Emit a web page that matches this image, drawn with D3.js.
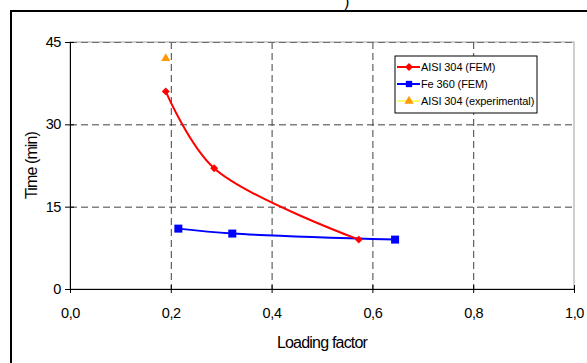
<!DOCTYPE html>
<html>
<head>
<meta charset="utf-8">
<script src="https://cdn.jsdelivr.net/npm/d3@7"></script>
<style>
  body { margin: 0; background: #fff; }
  svg { display: block; font-family: "Liberation Sans", Arial, sans-serif; }
</style>
</head>
<body>
<div id="chart"></div>
<script>
const width = 587;
const height = 363;

// values
const aisiFem = [
  { x: 0.19, y: 36 },
  { x: 0.286, y: 22 },
  { x: 0.573, y: 9 }
];
const feFem = [
  { x: 0.215, y: 11 },
  { x: 0.322, y: 10.1 },
  { x: 0.645, y: 9 }
];
const aisiExp = [
  { x: 0.19, y: 42 }
];
const xTicks = [0, 0.2, 0.4, 0.6, 0.8, 1.0];
const yTicks = [0, 15, 30, 45];
const seriesNames = ['AISI 304 (FEM)', 'Fe 360 (FEM)', 'AISI 304 (experimental)'];

const margin = { left: 70, right: 13, top: 42, bottom: 74 };
const plotW = width - margin.left - margin.right;
const plotH = height - margin.top - margin.bottom;

const svg = d3.select('#chart')
  .append('svg')
  .attr('width', width)
  .attr('height', height);

// outer frame (runs off the right and bottom edge)
svg.append('rect')
  .attr('x', 11).attr('y', 11)
  .attr('width', 620).attr('height', 400)
  .attr('fill', 'none')
  .attr('stroke', '#000')
  .attr('stroke-width', 2);

// cut-off caption above the frame
svg.append('text')
  .attr('x', 344).attr('y', 9)
  .attr('font-size', 16)
  .attr('font-style', 'italic')
  .text(')');

const x = d3.scaleLinear().domain([0, 1]).range([0, plotW]);
const y = d3.scaleLinear().domain([0, 45]).range([plotH, 0]);

const g = svg.append('g')
  .attr('transform', `translate(${margin.left},${margin.top})`);

// plot area border
g.append('rect')
  .attr('width', plotW).attr('height', plotH)
  .attr('fill', 'none')
  .attr('stroke', '#a0a0a0')
  .attr('stroke-width', 1);

// grid lines
g.append('g')
  .selectAll('line')
  .data(xTicks.filter(d => d > 0 && d < 1))
  .enter()
  .append('line')
  .attr('x1', d => x(d) + 0.5).attr('x2', d => x(d) + 0.5)
  .attr('y1', 0).attr('y2', plotH)
  .attr('stroke', '#404040')
  .attr('stroke-dasharray', '7,4');

g.append('g')
  .selectAll('line')
  .data(yTicks.filter(d => d > 0))
  .enter()
  .append('line')
  .attr('x1', 0).attr('x2', plotW)
  .attr('y1', d => y(d) + 0.5).attr('y2', d => y(d) + 0.5)
  .attr('stroke', d => d === 45 ? '#707070' : '#404040')
  .attr('stroke-dasharray', '7,4');

// axes
const xAxis = g.append('g')
  .attr('transform', `translate(0,${plotH})`)
  .call(d3.axisBottom(x).tickValues(xTicks).tickSize(4).tickPadding(14)
    .tickFormat(d => d3.format('.1f')(d).replace('.', ',')));
xAxis.selectAll('.tick line').attr('y1', -4);

const yAxis = g.append('g')
  .call(d3.axisLeft(y).tickValues(yTicks).tickSize(5).tickPadding(4));
yAxis.selectAll('.tick line').attr('x1', 4).attr('x2', -5);

[xAxis, yAxis].forEach(a => {
  a.select('.domain').attr('stroke', '#000');
  a.selectAll('.tick line').attr('stroke', '#000');
  a.selectAll('text')
    .attr('font-family', '"Liberation Sans", Arial, sans-serif')
    .attr('font-size', 14.5)
    .attr('letter-spacing', -0.4)
    .attr('fill', '#000');
});
xAxis.selectAll('.tick text').attr('dy', '0.75em');

// axis titles
svg.append('text')
  .attr('x', margin.left + x(0.5))
  .attr('y', 348)
  .attr('text-anchor', 'middle')
  .attr('font-size', 16)
  .attr('letter-spacing', -0.8)
  .text('Loading factor');

svg.append('text')
  .attr('transform', `translate(37,${margin.top + plotH / 2}) rotate(-90)`)
  .attr('text-anchor', 'middle')
  .attr('font-size', 16)
  .attr('letter-spacing', -0.9)
  .text('Time (min)');

// series
const line = d3.line()
  .x(d => x(d.x))
  .y(d => y(d.y))
  .curve(d3.curveCatmullRom.alpha(0.5));

g.append('path')
  .datum(feFem)
  .attr('d', line)
  .attr('fill', 'none')
  .attr('stroke', '#0000ff')
  .attr('stroke-width', 2);

g.append('path')
  .datum(aisiFem)
  .attr('d', line)
  .attr('fill', 'none')
  .attr('stroke', '#ff0000')
  .attr('stroke-width', 2);

const diamond = d3.symbol().type(d3.symbolDiamond2).size(40);
const square = d3.symbol().type(d3.symbolSquare).size(64);
const triangle = d3.symbol().type(d3.symbolTriangle).size(36);

g.append('g').selectAll('path')
  .data(aisiFem).enter().append('path')
  .attr('transform', d => `translate(${x(d.x)},${y(d.y)})`)
  .attr('d', diamond)
  .attr('fill', '#ff0000');

g.append('g').selectAll('path')
  .data(feFem).enter().append('path')
  .attr('transform', d => `translate(${x(d.x)},${y(d.y)})`)
  .attr('d', square)
  .attr('fill', '#0000ff');

g.append('g').selectAll('path')
  .data(aisiExp).enter().append('path')
  .attr('transform', d => `translate(${x(d.x)},${y(d.y)})`)
  .attr('d', triangle)
  .attr('fill', '#ff9900');

// legend
const legend = svg.append('g')
  .attr('transform', 'translate(395,56)');

legend.append('rect')
  .attr('width', 142).attr('height', 57)
  .attr('fill', '#fff')
  .attr('stroke', '#000');

const legendLine = ['#ff0000', '#0000ff', '#ffff66'];
const legendMark = ['#ff0000', '#0000ff', '#ff9900'];
const legendSym = [diamond, square.size(40), triangle];

seriesNames.forEach((name, i) => {
  const row = legend.append('g')
    .attr('transform', `translate(0,${11 + i * 17})`);
  row.append('line')
    .attr('x1', 2).attr('x2', 25)
    .attr('stroke', legendLine[i])
    .attr('stroke-width', 2);
  row.append('path')
    .attr('transform', 'translate(14,0)')
    .attr('d', legendSym[i])
    .attr('fill', legendMark[i]);
  row.append('text')
    .attr('x', 26)
    .attr('dy', '0.35em')
    .attr('font-size', 11)
    .attr('letter-spacing', -0.1)
    .text(name);
});
</script>
</body>
</html>
